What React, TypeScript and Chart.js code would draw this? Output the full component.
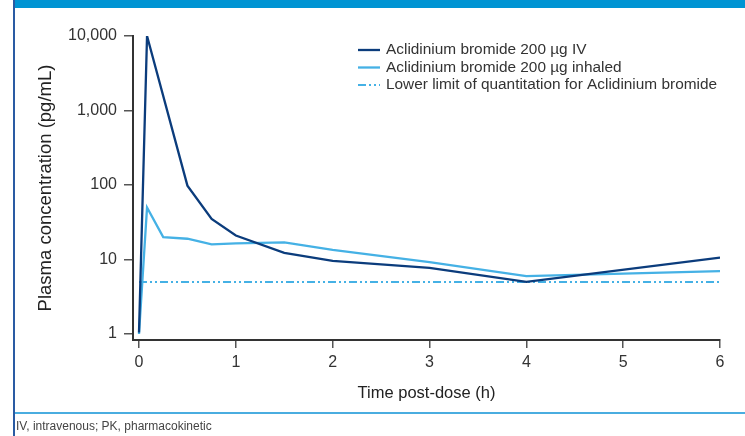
import React, { useEffect, useRef } from "react";
import { Chart, registerables } from "chart.js";

Chart.register(...registerables);

// ---- data ----
const timesIV = [0, 0.083, 0.5, 0.75, 1, 1.5, 2, 3, 4, 6];
const concIV = [1.05, 10000, 98, 35, 21, 12.3, 9.6, 7.7, 5.0, 10.6];
const timesInhaled = [0, 0.083, 0.25, 0.5, 0.75, 1, 1.5, 2, 3, 4, 6];
const concInhaled = [1, 50, 20, 19, 16, 16.5, 17, 13.5, 9.2, 6.0, 7.0];
const lloqTimes = [0, 6];
const lloqValue = 5;
const xTickValues = [0, 1, 2, 3, 4, 5, 6];
const yTickValues = [1, 10, 100, 1000, 10000];
const seriesLabels = [
  "Aclidinium bromide 200 \u00b5g IV",
  "Aclidinium bromide 200 \u00b5g inhaled",
  "Lower limit of quantitation for Aclidinium bromide",
];
const xTitle = "Time post-dose (h)";
const yTitle = "Plasma concentration (pg/mL)";
const footnote = "IV, intravenous; PK, pharmacokinetic";

const FONT = '"Liberation Sans", Arial, Helvetica, sans-serif';

const legendPlugin = {
  id: "customLegend",
  afterDraw(chart: any) {
    const ctx = chart.ctx;
    const x0 = 358;
    const y0 = 50;
    const rowH = 17.5;
    const lineW = 22;
    const gap = 6;
    ctx.save();
    chart.data.datasets.forEach((ds: any, i: number) => {
      const y = y0 + i * rowH;
      ctx.strokeStyle = ds.borderColor;
      ctx.lineWidth = ds.borderWidth;
      ctx.setLineDash(ds.borderDash || []);
      ctx.beginPath();
      ctx.moveTo(x0, y);
      ctx.lineTo(x0 + lineW, y);
      ctx.stroke();
      ctx.setLineDash([]);
      ctx.fillStyle = "#333333";
      ctx.font = `15.4px ${FONT}`;
      ctx.textBaseline = "middle";
      ctx.textAlign = "left";
      ctx.fillText(ds.label, x0 + lineW + gap, y);
    });
    ctx.restore();
  },
};

export default function App() {
  const canvasRef = useRef<HTMLCanvasElement | null>(null);

  useEffect(() => {
    if (!canvasRef.current) return;
    const chart = new Chart(canvasRef.current, {
      type: "line",
      data: {
        datasets: [
          {
            label: seriesLabels[0],
            data: timesIV.map((t, i) => ({ x: t, y: concIV[i] })),
            borderColor: "#0b3c7c",
            borderWidth: 2.3,
            pointRadius: 0,
            tension: 0,
            fill: false,
          },
          {
            label: seriesLabels[1],
            data: timesInhaled.map((t, i) => ({ x: t, y: concInhaled[i] })),
            borderColor: "#45b1e5",
            borderWidth: 2.3,
            pointRadius: 0,
            tension: 0,
            fill: false,
          },
          {
            label: seriesLabels[2],
            data: lloqTimes.map((t) => ({ x: t, y: lloqValue })),
            borderColor: "#45b1e5",
            borderWidth: 2,
            borderDash: [8, 3, 2, 3, 2, 3],
            pointRadius: 0,
            tension: 0,
            fill: false,
          },
        ],
      },
      options: {
        animation: false,
        responsive: false,
        devicePixelRatio: 1,
        layout: { padding: { top: 36, right: 25, left: 0, bottom: 0 } },
        font: { family: FONT },
        plugins: {
          legend: { display: false },
          tooltip: { enabled: false },
        },
        scales: {
          x: {
            type: "linear",
            min: -0.062,
            max: 6,
            afterBuildTicks: (s: any) => {
              s.ticks = xTickValues.map((v) => ({ value: v }));
            },
            afterFit: (s: any) => {
              s.height = 96;
            },
            grid: {
              drawOnChartArea: false,
              drawTicks: true,
              tickLength: 8,
              color: "#555555",
              lineWidth: 1.5,
            },
            border: { color: "#333333", width: 2 },
            ticks: {
              color: "#333333",
              font: { size: 16, family: FONT },
              padding: 5,
              autoSkip: false,
              maxRotation: 0,
            },
            title: {
              display: true,
              text: xTitle,
              color: "#222222",
              font: { size: 16.5, family: FONT },
              padding: { top: 0, bottom: 33 },
            },
          },
          y: {
            type: "logarithmic",
            min: 0.831,
            max: 10000,
            afterBuildTicks: (s: any) => {
              s.ticks = yTickValues.map((v) => ({ value: v }));
            },
            afterFit: (s: any) => {
              s.width = 133;
            },
            grid: {
              drawOnChartArea: false,
              drawTicks: true,
              tickLength: 9,
              color: "#555555",
              lineWidth: 1.5,
            },
            border: { color: "#333333", width: 2 },
            ticks: {
              color: "#333333",
              font: { size: 16, family: FONT },
              padding: 7,
              autoSkip: false,
              callback: (v: any) => Number(v).toLocaleString("en-US"),
            },
            title: {
              display: true,
              text: yTitle,
              color: "#222222",
              font: { size: 18.5, family: FONT },
              padding: { top: 35, bottom: 0 },
            },
          },
        },
      } as any,
      plugins: [legendPlugin],
    });
    return () => chart.destroy();
  }, []);

  return (
    <div
      style={{
        position: "fixed",
        left: 0,
        top: 0,
        width: 745,
        height: 436,
        background: "#ffffff",
        overflow: "hidden",
      }}
    >
      <canvas
        ref={canvasRef}
        width={745}
        height={436}
        style={{ position: "absolute", left: 0, top: 0, width: 745, height: 436 }}
      />
      <div style={{ position: "absolute", left: 13, top: 0, width: 2, height: 436, background: "#2a5ba3" }} />
      <div style={{ position: "absolute", left: 15, top: 0, width: 730, height: 8, background: "#0094d3" }} />
      <div style={{ position: "absolute", left: 15, top: 412, width: 730, height: 2, background: "#4aade0" }} />
      <div
        style={{
          position: "absolute",
          left: 16,
          top: 419,
          fontFamily: '"Liberation Sans Narrow", "Liberation Sans", Arial, sans-serif',
          fontSize: 12,
          lineHeight: "14px",
          color: "#444444",
          whiteSpace: "nowrap",
        }}
      >
        {footnote}
      </div>
    </div>
  );
}
